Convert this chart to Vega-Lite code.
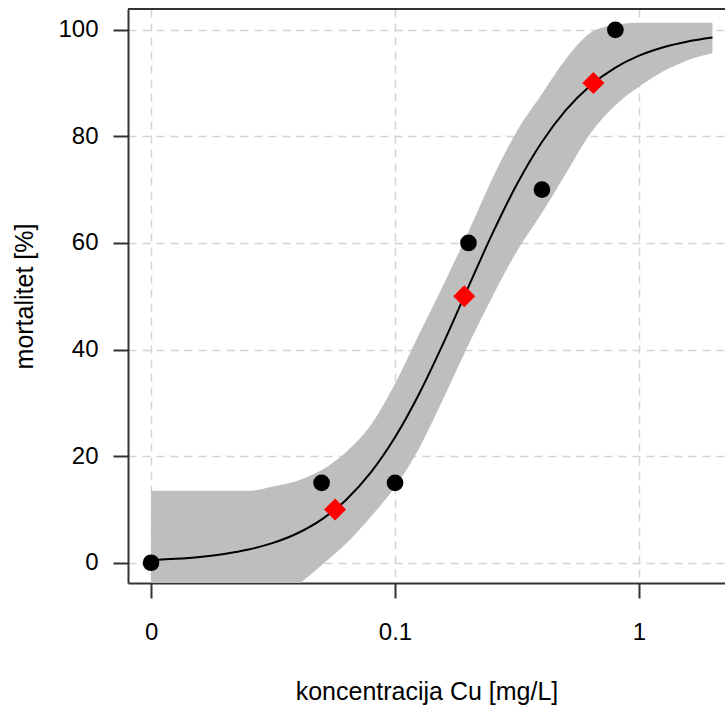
{
  "$schema": "https://vega.github.io/schema/vega-lite/v6.json",
  "width": 597,
  "height": 574,
  "autosize": {"type": "none"},
  "padding": {"left": 128, "top": 9, "right": 0, "bottom": 123},
  "background": "white",
  "config": {
    "view": {"stroke": null},
    "font": "Liberation Sans",
    "axis": {
      "labelFont": "Liberation Sans",
      "titleFont": "Liberation Sans",
      "labelFontSize": 24,
      "titleFontSize": 25,
      "labelColor": "black",
      "titleColor": "black",
      "titleFontWeight": "normal",
      "domainColor": "#333333",
      "domainWidth": 2,
      "tickColor": "#333333",
      "tickWidth": 2,
      "tickSize": 15,
      "gridColor": "#d3d3d3",
      "gridDash": [8, 6],
      "gridWidth": 1.5
    }
  },
  "datasets": {
    "fit": [
      {"dose": 0.01, "fit": 0.48, "upper": 13.5, "lower": -12},
      {"dose": 0.012589, "fit": 0.73, "upper": 13.5, "lower": -12},
      {"dose": 0.015849, "fit": 1.10, "upper": 13.5, "lower": -11.5},
      {"dose": 0.019953, "fit": 1.66, "upper": 13.5, "lower": -11},
      {"dose": 0.025119, "fit": 2.49, "upper": 13.5, "lower": -9.5},
      {"dose": 0.031623, "fit": 3.72, "upper": 14.3, "lower": -7},
      {"dose": 0.039811, "fit": 5.53, "upper": 15.4, "lower": -4.2},
      {"dose": 0.050119, "fit": 8.14, "upper": 17.4, "lower": -0.4},
      {"dose": 0.063096, "fit": 11.83, "upper": 20.8, "lower": 3.6},
      {"dose": 0.079433, "fit": 16.89, "upper": 25.8, "lower": 8.6},
      {"dose": 0.1, "fit": 23.53, "upper": 33.6, "lower": 14.2},
      {"dose": 0.125893, "fit": 31.80, "upper": 43.0, "lower": 21.6},
      {"dose": 0.158489, "fit": 41.39, "upper": 52.3, "lower": 31.0},
      {"dose": 0.199526, "fit": 51.68, "upper": 62.0, "lower": 40.8},
      {"dose": 0.251189, "fit": 61.84, "upper": 72.2, "lower": 50.0},
      {"dose": 0.316228, "fit": 71.05, "upper": 81.0, "lower": 58.5},
      {"dose": 0.398107, "fit": 78.80, "upper": 87.8, "lower": 65.5},
      {"dose": 0.501187, "fit": 84.91, "upper": 94.5, "lower": 73.0},
      {"dose": 0.630957, "fit": 89.50, "upper": 99.4, "lower": 80.5},
      {"dose": 0.794328, "fit": 92.81, "upper": 100.9, "lower": 85.7},
      {"dose": 1.0, "fit": 95.14, "upper": 101.3, "lower": 89.3},
      {"dose": 1.258925, "fit": 96.73, "upper": 101.3, "lower": 92.2},
      {"dose": 1.584893, "fit": 97.82, "upper": 101.3, "lower": 94.3},
      {"dose": 2.0, "fit": 98.56, "upper": 101.3, "lower": 95.6}
    ],
    "obs": [
      {"dose": 0.01, "mortality": 0},
      {"dose": 0.05, "mortality": 15},
      {"dose": 0.1, "mortality": 15},
      {"dose": 0.2, "mortality": 60},
      {"dose": 0.4, "mortality": 70},
      {"dose": 0.8, "mortality": 100}
    ],
    "ec": [
      {"dose": 0.0568, "mortality": 10},
      {"dose": 0.1922, "mortality": 50},
      {"dose": 0.650, "mortality": 90}
    ],
    "frame": [
      {"top": 103.9}
    ]
  },
  "layer": [
    {
      "data": {"name": "fit"},
      "mark": {"type": "area", "color": "#bebebe", "opacity": 1, "clip": true, "interpolate": "monotone"},
      "encoding": {
        "x": {
          "field": "dose", "type": "quantitative",
          "scale": {"type": "log", "domain": [0.008045, 2.2514], "nice": false},
          "axis": {
            "values": [0.01, 0.1, 1],
            "labelExpr": "datum.value < 0.05 ? '0' : (datum.value < 0.5 ? '0.1' : '1')",
            "labelBaseline": "alphabetic",
            "labelPadding": 41.5,
            "labelFlush": false,
            "labelOverlap": false,
            "grid": true,
            "title": "koncentracija Cu [mg/L]",
            "titleBaseline": "alphabetic",
            "titleY": 116
          }
        },
        "y": {
          "field": "upper", "type": "quantitative",
          "scale": {"domain": [-3.8, 103.9], "nice": false, "zero": false},
          "axis": {
            "values": [0, 20, 40, 60, 80, 100],
            "labelPadding": 15,
            "grid": true,
            "title": "mortalitet [%]",
            "titleBaseline": "alphabetic",
            "titleX": -96
          }
        },
        "y2": {"field": "lower"}
      }
    },
    {
      "data": {"name": "fit"},
      "mark": {"type": "line", "color": "black", "strokeWidth": 2, "interpolate": "monotone", "clip": true},
      "encoding": {
        "x": {"field": "dose", "type": "quantitative", "title": "koncentracija Cu [mg/L]"},
        "y": {"field": "fit", "type": "quantitative", "title": "mortalitet [%]"}
      }
    },
    {
      "data": {"name": "frame"},
      "mark": {"type": "rule", "color": "#333333", "strokeWidth": 2},
      "encoding": {
        "y": {"field": "top", "type": "quantitative", "title": "mortalitet [%]"}
      }
    },
    {
      "data": {"name": "obs"},
      "mark": {"type": "point", "shape": "circle", "filled": true, "color": "black", "opacity": 1, "size": 279},
      "encoding": {
        "x": {"field": "dose", "type": "quantitative", "title": "koncentracija Cu [mg/L]"},
        "y": {"field": "mortality", "type": "quantitative", "title": "mortalitet [%]"}
      }
    },
    {
      "data": {"name": "ec"},
      "mark": {"type": "point", "shape": "diamond", "filled": true, "color": "#ff0000", "opacity": 1, "size": 484},
      "encoding": {
        "x": {"field": "dose", "type": "quantitative", "title": "koncentracija Cu [mg/L]"},
        "y": {"field": "mortality", "type": "quantitative", "title": "mortalitet [%]"}
      }
    }
  ]
}
